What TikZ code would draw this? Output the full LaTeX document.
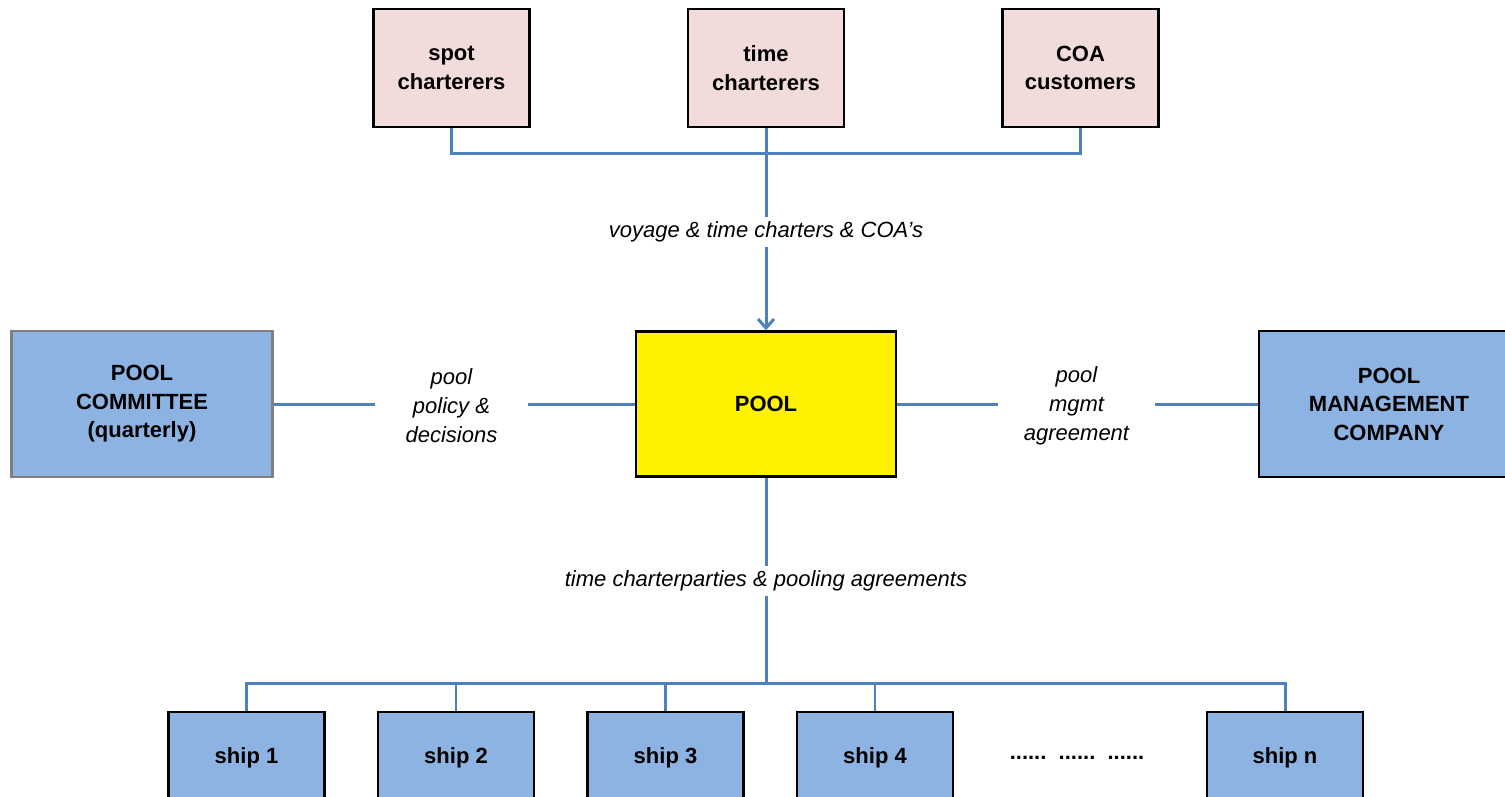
\documentclass[tikz,border=0pt]{standalone}
\usepackage{fontspec}
\setmainfont{Liberation Sans}
\usetikzlibrary{arrows.meta, positioning}
\definecolor{blush}{RGB}{242, 220, 219}
\definecolor{steel}{RGB}{141, 179, 226}
\definecolor{linkblue}{RGB}{79, 129, 189}
\definecolor{frame}{RGB}{127, 127, 127}

\begin{document}
\begin{tikzpicture}[
            x=1pt, y=-1pt,
            node distance=51pt,
            box/.style={draw=black, line width=2.5pt, minimum width=156pt, minimum height=118pt, inner sep=0pt, align=center, font=\fontsize{22}{28.5}\selectfont\bfseries},
            party/.style={box, fill=blush},
            vessel/.style={box, fill=steel, minimum height=92pt},
            pillar/.style={box, fill=steel, minimum width=261pt, minimum height=146pt},
            note/.style={align=center, inner xsep=0pt, inner ysep=5pt, font=\fontsize{22}{29}\selectfont\itshape},
            link/.style={draw=linkblue, line width=3pt}
        ]
            \useasboundingbox (0,0) rectangle (1505,796);

            % charterers on top
            \node[party] (time) at (766,68) {time\\charterers};
            \node[party, left=156pt of time] (spot) {spot\\charterers};
            \node[party, right=156pt of time] (coa) {COA\\customers};

            % the pool and its two partners
            \node[box, fill=yellow, minimum width=260pt, minimum height=145pt] (pool) at (766,404) {POOL};
            \node[pillar, draw=frame] (committee) at (142,404) {POOL\\COMMITTEE\\(quarterly)};
            \node[pillar, minimum width=260pt] (mgmt) at (1389,404) {POOL\\MANAGEMENT\\COMPANY};

            % ships
            \node[vessel] (ship1) at (246.5,758) {ship 1};
            \node[vessel, right=of ship1] (ship2) {ship 2};
            \node[vessel, right=of ship2] (ship3) {ship 3};
            \node[vessel, right=of ship3] (ship4) {ship 4};
            \node[vessel] (shipn) at (1285,758) {ship n};
            \node[font=\fontsize{22}{27.5}\selectfont\bfseries] (dots) at (1077,758) {......\ \ ......\ \ ......};

            % labels on the links
            \node[note] (voyage) at (766,232) {voyage \& time charters \& COA's};
            \node[note, minimum width=153pt] (policy) at (451.5,406) {pool\\policy \&\\decisions};
            \node[note, minimum width=157pt] (agree) at (1076.5,406) {pool\\mgmt\\agreement};
            \node[note] (charterparty) at (766,581) {time charterparties \& pooling agreements};

            \coordinate (topbus) at (766,153);
            \coordinate (shipbus) at (766,683);

            \draw[link] (spot.south) |- (topbus) -| (coa.south);
            \draw[link] (time) -- (voyage);
            \draw[link, -{Straight Barb[length=9pt, width=16pt]}] (voyage) -- (pool);

            \draw[link] (committee.east) -- (committee.east -| policy.west);
            \draw[link] (policy.east |- pool.west) -- (pool.west);
            \draw[link] (pool.east) -- (pool.east -| agree.west);
            \draw[link] (agree.east |- mgmt.west) -- (mgmt.west);

            \draw[link] (pool) -- (charterparty);
            \draw[link] (charterparty) -- (shipbus);
            \draw[link] (ship1.north) |- (shipbus) -| (shipn.north);
            \foreach \s/\w in {ship2/2pt, ship3/3pt, ship4/2pt}
                \draw[link, line width=\w] (\s.north) -- (\s.north |- shipbus);
        \end{tikzpicture}
\end{document}
